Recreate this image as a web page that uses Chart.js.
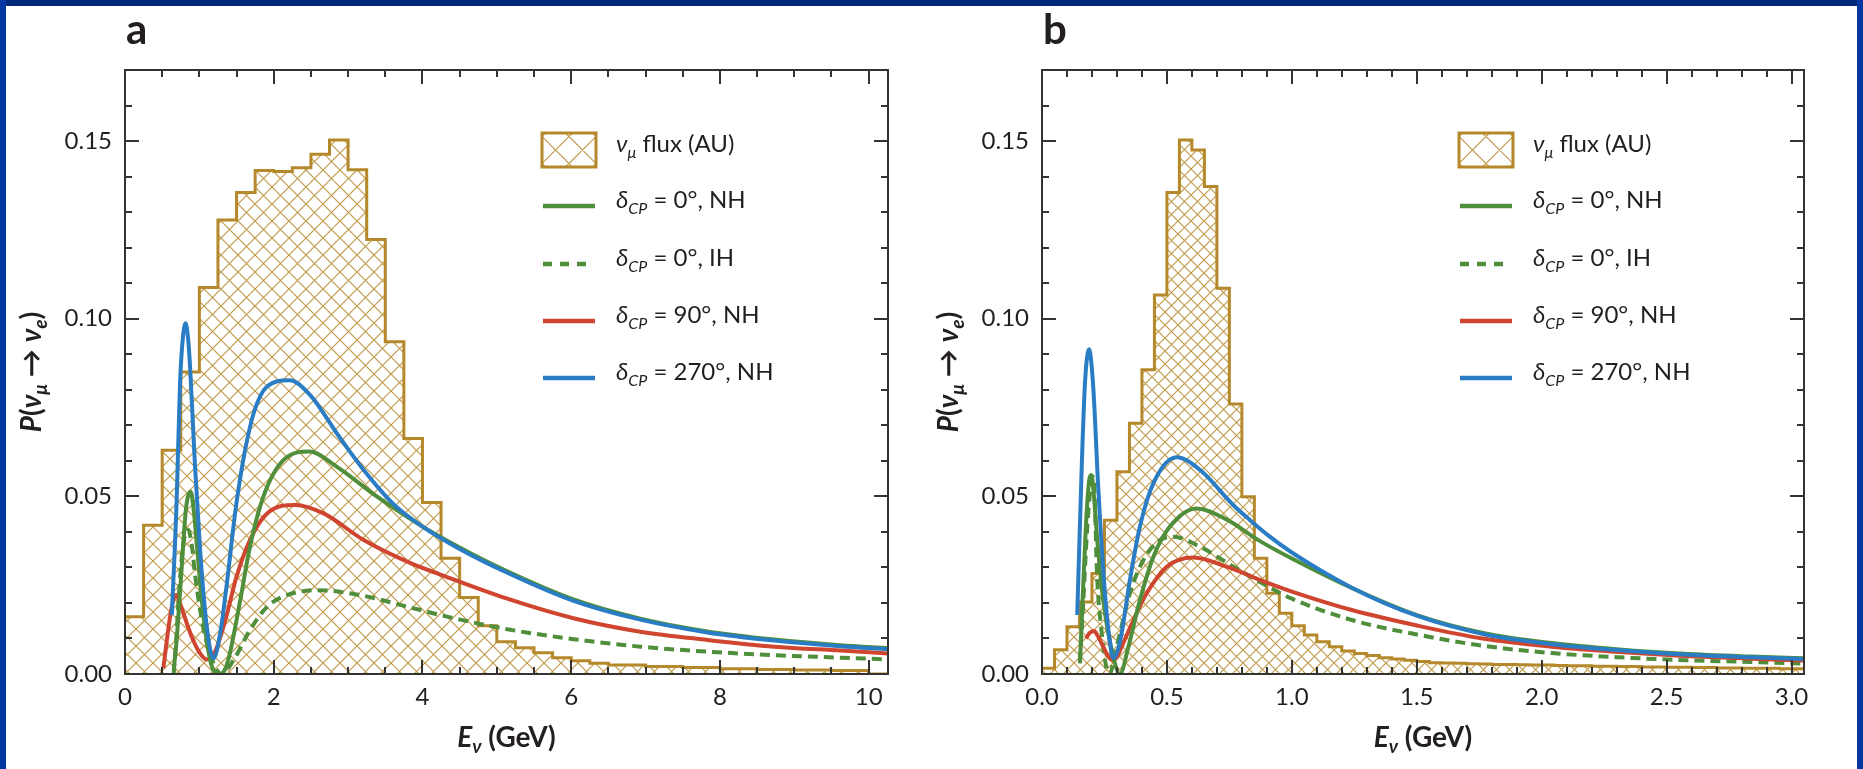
<!DOCTYPE html>
<html>
<head>
<meta charset="utf-8">
<script src="https://cdn.jsdelivr.net/npm/chart.js@4.4.1/dist/chart.umd.min.js"></script>
<style>
  html, body { margin: 0; padding: 0; background: #fff; }
  #page { position: relative; width: 1863px; height: 769px; overflow: hidden; background: #fff; }
  #page canvas { position: absolute; top: 0; }
  .edge { position: absolute; background: #0236a0; }
</style>
</head>
<body>
<div id="page">
  <canvas id="grafA" width="931" height="769" style="left:0"></canvas>
  <canvas id="grafB" width="932" height="769" style="left:931px"></canvas>
  <div class="edge" style="left:0;top:0;width:1863px;height:6px;background:#00297a"></div>
  <div class="edge" style="left:0;top:0;width:6px;height:769px"></div>
  <div class="edge" style="right:0;top:0;width:6px;height:769px"></div>
</div>
<script>
const FONT = 'Lato, "Noto Sans", "DejaVu Sans", sans-serif';
const INK = '#231f20';
const FRAME = '#333333';
const GOLD = '#b5892b';
const HATCH = 'rgba(181,137,43,0.85)';
const GREEN = '#4f8e3a', RED = '#d0452f', BLUE = '#2a7dc4';

// ---- panel a : flux histogram (0.25 GeV bins from 0) and P(numu -> nue) curves ----
const aFluxBin = 0.25;
const aFlux = [0.0161, 0.0419, 0.063, 0.085, 0.1088, 0.1278, 0.1355, 0.1417, 0.1414, 0.1425,
  0.1463, 0.1503, 0.1419, 0.1223, 0.0935, 0.0663, 0.0483, 0.0326, 0.0215, 0.0136,
  0.0091, 0.0074, 0.006, 0.0046, 0.0037, 0.003, 0.0025, 0.0025, 0.0021, 0.0021,
  0.0018, 0.0018, 0.0015, 0.0015, 0.0013, 0.0013, 0.0011, 0.0011, 0.001, 0.001, 0];
// [E (GeV), P]
const aNH270 = [[0.63,0.0166],[0.695,0.049],[0.74,0.0818],[0.78,0.095],[0.817,0.0987],[0.85,0.094],[0.875,0.0865],[0.942,0.0583],[1.01,0.0349],[1.10,0.0133],[1.19,0.0044],[1.28,0.0115],[1.37,0.0255],[1.48,0.0452],[1.59,0.0602],[1.73,0.0734],[1.91,0.0809],[2.21,0.0827],[2.49,0.0785],[2.85,0.0677],[3.21,0.0574],[3.61,0.0478],[4.0,0.0415],[4.5,0.0352],[5.14,0.0285],[6.03,0.0206],[6.93,0.0153],[7.83,0.0117],[8.73,0.0094],[9.62,0.0078],[10.26,0.007]];
const aNH0 = [[0.655,0.001],[0.70,0.011],[0.763,0.0302],[0.82,0.0465],[0.884,0.0513],[0.925,0.046],[0.965,0.0365],[1.054,0.0165],[1.144,0.004],[1.21,0.0005],[1.28,0.0],[1.35,0.0015],[1.41,0.0058],[1.55,0.0208],[1.68,0.0358],[1.86,0.0499],[2.13,0.0602],[2.48,0.0626],[2.85,0.0583],[3.39,0.0499],[3.93,0.0424],[4.5,0.0356],[5.14,0.0289],[6.03,0.021],[6.93,0.0156],[7.83,0.012],[8.73,0.0097],[9.62,0.0081],[10.26,0.0073]];
const aNH90 = [[0.516,0.0016],[0.56,0.009],[0.606,0.0161],[0.645,0.0205],[0.686,0.0222],[0.73,0.0205],[0.785,0.0171],[0.897,0.0105],[1.01,0.0058],[1.10,0.0041],[1.21,0.0063],[1.35,0.0152],[1.50,0.0274],[1.68,0.0377],[1.91,0.0452],[2.29,0.0476],[2.67,0.0452],[3.21,0.0377],[3.84,0.0312],[4.24,0.028],[5.14,0.0212],[6.03,0.0157],[6.93,0.0119],[7.83,0.0096],[8.73,0.0077],[9.62,0.0066],[10.26,0.0058]];
const aIH0 = [[0.655,0.0],[0.69,0.01],[0.72,0.0208],[0.78,0.036],[0.85,0.0405],[0.90,0.036],[0.94,0.0283],[1.05,0.0133],[1.19,0.003],[1.30,0.0],[1.46,0.0039],[1.68,0.0124],[1.91,0.0189],[2.13,0.0218],[2.58,0.0236],[3.16,0.0222],[3.84,0.0187],[4.24,0.0166],[4.51,0.0153],[5.14,0.0126],[6.03,0.0098],[6.93,0.0077],[7.83,0.0063],[8.73,0.0053],[9.62,0.0046],[10.26,0.0041]];

// ---- panel b : flux histogram (0.05 GeV bins from 0) and curves ----
const bFluxBin = 0.05;
const bFlux = [0.0016, 0.0068, 0.0133, 0.0203, 0.0283, 0.0433, 0.0569, 0.0706, 0.0856, 0.1067,
  0.1355, 0.1503, 0.1475, 0.1372, 0.1086, 0.076, 0.0499, 0.0326, 0.0227, 0.0171,
  0.0136, 0.011, 0.0091, 0.0077, 0.0065, 0.0058, 0.0052, 0.0046, 0.0042, 0.0039,
  0.0035, 0.0032, 0.0031, 0.003, 0.0029, 0.0028, 0.0027, 0.0027, 0.0026, 0.0025,
  0.0025, 0.0024, 0.0023, 0.0023, 0.0022, 0.0022, 0.0021, 0.0021, 0.002, 0.002,
  0.0019, 0.0019, 0.0018, 0.0018, 0.0017, 0.0017, 0.0016, 0.0016, 0.0016, 0.0015, 0.0015];
const bNH270 = [[0.141,0.0166],[0.159,0.0583],[0.172,0.0818],[0.188,0.0914],[0.205,0.0809],[0.225,0.0527],[0.252,0.0227],[0.27,0.01],[0.285,0.0044],[0.30,0.006],[0.319,0.0115],[0.352,0.0265],[0.392,0.0415],[0.446,0.0537],[0.539,0.061],[0.633,0.0574],[0.766,0.0475],[0.833,0.0433],[0.90,0.0393],[1.0,0.0342],[1.24,0.0243],[1.5,0.0164],[1.77,0.0112],[2.04,0.0084],[2.31,0.0067],[2.57,0.0055],[2.84,0.0047],[3.05,0.0042]];
const bNH0 = [[0.152,0.003],[0.162,0.02],[0.176,0.042],[0.19,0.055],[0.198,0.056],[0.208,0.05],[0.219,0.0396],[0.245,0.0208],[0.279,0.0068],[0.312,0.0],[0.346,0.0077],[0.392,0.0208],[0.446,0.033],[0.512,0.0415],[0.619,0.0466],[0.739,0.0435],[0.873,0.0374],[1.0,0.0325],[1.24,0.0242],[1.5,0.0166],[1.77,0.0115],[2.04,0.0087],[2.31,0.0069],[2.57,0.0057],[2.84,0.0049],[3.05,0.0044]];
const bNH90 = [[0.176,0.010],[0.19,0.0115],[0.208,0.0121],[0.225,0.0105],[0.245,0.0077],[0.265,0.005],[0.285,0.0039],[0.30,0.0048],[0.319,0.0077],[0.366,0.0152],[0.419,0.0227],[0.499,0.0302],[0.606,0.0328],[0.739,0.0302],[0.90,0.0257],[1.0,0.0232],[1.24,0.018],[1.51,0.0135],[1.77,0.0099],[2.04,0.0077],[2.31,0.0062],[2.57,0.0051],[2.84,0.0043],[3.05,0.0038]];
const bIH0 = [[0.152,0.0035],[0.165,0.02],[0.18,0.04],[0.195,0.053],[0.205,0.0555],[0.212,0.048],[0.219,0.0302],[0.239,0.0115],[0.259,0.0014],[0.272,0.0],[0.29,0.005],[0.312,0.0115],[0.352,0.0227],[0.406,0.0321],[0.472,0.0377],[0.526,0.0386],[0.633,0.0358],[0.766,0.0302],[0.90,0.0248],[1.0,0.0212],[1.24,0.0152],[1.51,0.011],[1.77,0.0079],[2.04,0.0059],[2.31,0.0047],[2.57,0.0039],[2.84,0.0034],[3.05,0.0029]];

// ---- axes ----
const aXTicks = [0, 2, 4, 6, 8, 10];
const aXLabels = ['0', '2', '4', '6', '8', '10'];
const bXTicks = [0, 0.5, 1, 1.5, 2, 2.5, 3];
const bXLabels = ['0.0', '0.5', '1.0', '1.5', '2.0', '2.5', '3.0'];
const yTicks = [0, 0.05, 0.10, 0.15];
const yLabels = ['0.00', '0.05', '0.10', '0.15'];
const legendLabels = [' flux (AU)', ' = 0°, NH', ' = 0°, IH', ' = 90°, NH', ' = 270°, NH'];

const pts = arr => arr.map(([x, y]) => ({ x, y }));
function histPts(vals, bin, xMax) {
  const p = vals.map((v, i) => ({ x: i * bin, y: v }));
  p.push({ x: xMax, y: vals[vals.length - 1] });
  return p;
}

function hatchTile(size) {
  const c = document.createElement('canvas');
  c.width = c.height = size;
  const g = c.getContext('2d');
  g.strokeStyle = HATCH;
  g.lineWidth = 1.2;
  g.beginPath();
  g.moveTo(-1, -1); g.lineTo(size + 1, size + 1);
  g.moveTo(-1, size + 1); g.lineTo(size + 1, -1);
  g.stroke();
  return c;
}

function rich(ctx, parts, x, y, measureOnly) {
  let cx = x;
  for (const p of parts) {
    ctx.font = p.f;
    if (!measureOnly) ctx.fillText(p.t, cx, y + (p.dy || 0));
    cx += ctx.measureText(p.t).width;
  }
  return cx - x;
}

const deco = {
  id: 'deco',
  afterDatasetsDraw(chart, args, o) {
    const { ctx, chartArea: ca, scales: { x, y } } = chart;
    ctx.save();
    ctx.strokeStyle = FRAME;
    ctx.lineWidth = 2;
    ctx.beginPath();
    const nx = Math.floor(o.xMax / o.xMinor + 1e-6);
    for (let i = 0; i <= nx; i++) {
      const v = i * o.xMinor;
      const len = o.xTicks.some(t => Math.abs(t - v) < 1e-6) ? 14 : 7;
      const px = Math.round(x.getPixelForValue(v));
      ctx.moveTo(px, ca.bottom); ctx.lineTo(px, ca.bottom - len);
      ctx.moveTo(px, ca.top); ctx.lineTo(px, ca.top + len);
    }
    for (let i = 0; i <= 17; i++) {
      const v = i * 0.01;
      const len = yTicks.some(t => Math.abs(t - v) < 1e-6) ? 14 : 7;
      const py = Math.round(y.getPixelForValue(v));
      ctx.moveTo(ca.left, py); ctx.lineTo(ca.left + len, py);
      ctx.moveTo(ca.right, py); ctx.lineTo(ca.right - len, py);
    }
    ctx.stroke();
    ctx.strokeRect(ca.left, ca.top, ca.right - ca.left, ca.bottom - ca.top);
    ctx.restore();
  },
  afterDraw(chart, args, o) {
    const { ctx, chartArea: ca } = chart;
    ctx.save();
    ctx.fillStyle = INK;
    ctx.textBaseline = 'alphabetic';
    ctx.textAlign = 'left';

    // panel letter
    ctx.font = 'bold 42px ' + FONT;
    ctx.fillText(o.letter, ca.left + 1, 44);

    // x title
    const xt = [
      { t: 'E', f: 'italic bold 28px ' + FONT },
      { t: 'ν', f: 'italic bold 19px ' + FONT, dy: 6 },
      { t: ' (GeV)', f: 'bold 28px ' + FONT }
    ];
    const xw = rich(ctx, xt, 0, 0, true);
    rich(ctx, xt, (ca.left + ca.right) / 2 - xw / 2, 747);

    // y title, rotated
    const yt = [
      { t: 'P', f: 'italic bold 28px ' + FONT },
      { t: '(', f: 'bold 28px ' + FONT },
      { t: 'ν', f: 'italic bold 28px ' + FONT },
      { t: 'μ', f: 'italic bold 19px ' + FONT, dy: 6 },
      { t: ' → ', f: 'bold 28px ' + FONT },
      { t: 'ν', f: 'italic bold 28px ' + FONT },
      { t: 'e', f: 'italic bold 19px ' + FONT, dy: 6 },
      { t: ')', f: 'bold 28px ' + FONT }
    ];
    const yw = rich(ctx, yt, 0, 0, true);
    ctx.save();
    ctx.translate(ca.left - 84, (ca.top + ca.bottom) / 2);
    ctx.rotate(-Math.PI / 2);
    rich(ctx, yt, -yw / 2, 0);
    ctx.restore();

    // legend
    const lx = ca.left + 417, tx = lx + 74;
    const rowY = [150, 206, 264, 321, 378];
    ctx.save();
    ctx.beginPath();
    ctx.rect(lx, 133, 54, 34);
    ctx.clip();
    ctx.strokeStyle = HATCH;
    ctx.lineWidth = 1.2;
    ctx.beginPath();
    for (let k = -3; k <= 4; k++) {
      const a = -3.5 + 27 * k;
      ctx.moveTo(lx + a - 40, 133 - 40); ctx.lineTo(lx + a + 80, 133 + 80);
      ctx.moveTo(lx + a - 40, 133 + 74); ctx.lineTo(lx + a + 80, 133 - 46);
    }
    ctx.stroke();
    ctx.restore();
    ctx.strokeStyle = GOLD;
    ctx.lineWidth = 3;
    ctx.strokeRect(lx, 133, 54, 34);

    const reg = '24px ' + FONT, ital = 'italic 24px ' + FONT, sub = 'italic 16px ' + FONT;
    rich(ctx, [{ t: 'ν', f: ital }, { t: 'μ', f: sub, dy: 6 }, { t: legendLabels[0], f: reg }], tx, rowY[0] + 2);

    const rows = [[GREEN, []], [GREEN, [9, 8]], [RED, []], [BLUE, []]];
    rows.forEach(([col, dash], i) => {
      const ry = rowY[i + 1];
      ctx.strokeStyle = col;
      ctx.lineWidth = 4.5;
      ctx.setLineDash(dash);
      ctx.beginPath();
      ctx.moveTo(lx + 1, ry);
      ctx.lineTo(lx + (dash.length ? 44 : 53), ry);
      ctx.stroke();
      ctx.setLineDash([]);
      rich(ctx, [{ t: 'δ', f: ital }, { t: 'CP', f: sub, dy: 6 }, { t: legendLabels[i + 1], f: reg }], tx, ry + 2);
    });
    ctx.restore();
  }
};

function panel(id, o) {
  const cv = document.getElementById(id);
  const fillPat = cv.getContext('2d').createPattern(hatchTile(o.hatch), 'repeat');
  const curve = (data, color, dash) => ({
    data: pts(data),
    borderColor: color,
    borderWidth: 4,
    borderDash: dash || [],
    pointRadius: 0,
    fill: false,
    cubicInterpolationMode: 'monotone'
  });
  return new Chart(cv, {
    type: 'line',
    data: {
      datasets: [
        curve(o.nh270, BLUE),
        curve(o.nh0, GREEN),
        curve(o.nh90, RED),
        curve(o.ih0, GREEN, [10, 6]),
        {
          data: histPts(o.flux, o.bin, o.xMax),
          borderColor: GOLD,
          borderWidth: 3,
          backgroundColor: fillPat,
          fill: 'origin',
          stepped: true,
          pointRadius: 0
        }
      ]
    },
    options: {
      responsive: false,
      animation: false,
      devicePixelRatio: 1,
      layout: { padding: { left: 0, right: o.padRight, top: 70, bottom: 0 } },
      scales: {
        x: {
          type: 'linear', min: 0, max: o.xMax,
          grid: { display: false, drawTicks: false },
          border: { display: false },
          afterBuildTicks: s => { s.ticks = o.xTicks.map(v => ({ value: v })); },
          afterFit: s => { s.height = 95; },
          ticks: {
            callback: (v, i) => o.xLabels[i],
            padding: 9, maxRotation: 0, autoSkip: false,
            color: INK, font: { family: FONT, size: 24 }
          }
        },
        y: {
          type: 'linear', min: 0, max: 0.17,
          grid: { display: false, drawTicks: false },
          border: { display: false },
          afterBuildTicks: s => { s.ticks = yTicks.map(v => ({ value: v })); },
          afterFit: s => { s.width = o.yWidth; },
          ticks: {
            callback: (v, i) => yLabels[i],
            padding: 13, autoSkip: false,
            color: INK, font: { family: FONT, size: 24 }
          }
        }
      },
      plugins: {
        legend: { display: false },
        tooltip: { enabled: false },
        deco: o
      }
    },
    plugins: [deco]
  });
}

panel('grafA', {
  letter: 'a', flux: aFlux, bin: aFluxBin, xMax: 10.26, xMinor: 0.5, hatch: 17,
  xTicks: aXTicks, xLabels: aXLabels, yWidth: 125, padRight: 43,
  nh270: aNH270, nh0: aNH0, nh90: aNH90, ih0: aIH0
});
panel('grafB', {
  letter: 'b', flux: bFlux, bin: bFluxBin, xMax: 3.05, xMinor: 0.1, hatch: 13,
  xTicks: bXTicks, xLabels: bXLabels, yWidth: 111, padRight: 59,
  nh270: bNH270, nh0: bNH0, nh90: bNH90, ih0: bIH0
});
</script>
</body>
</html>
